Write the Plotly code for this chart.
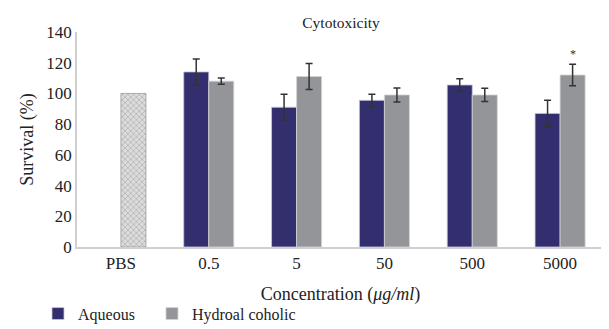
import plotly.graph_objects as go

categories = ["PBS", "0.5", "5", "50", "500", "5000"]
aqueous = [None, 114, 91, 95.5, 105.5, 87]
aqueous_err = [0, 8.5, 8.5, 4, 4, 8.5]
hydro = [None, 108, 111, 99, 99, 112]
hydro_err = [0, 2, 8.5, 4.5, 4.3, 7]
pbs = [100, None, None, None, None, None]
star_category_index = 5  # "5000"
star_y = 120

serif = "Liberation Serif, Times New Roman, serif"
err_style = dict(type="data", thickness=1.5, width=3.5, color="#333333")

# page body has an 8px default margin, so the figure is drawn at (8, 8)
W, H = 601, 321

fig = go.Figure()
fig.add_trace(go.Bar(
    name="Aqueous", x=categories, y=aqueous, offsetgroup="a", legend="legend",
    error_y=dict(array=aqueous_err, **err_style),
    marker=dict(color="#332E6E", line=dict(color="#C9C8DA", width=0.8)),
))
fig.add_trace(go.Bar(
    name="Hydroal coholic", x=categories, y=hydro, offsetgroup="h", legend="legend2",
    error_y=dict(array=hydro_err, **err_style),
    marker=dict(color="#949598", line=dict(color="#D4D4D6", width=0.8)),
))
fig.add_trace(go.Bar(
    name="PBS", x=categories, y=pbs, offsetgroup="h", showlegend=False,
    marker=dict(color="#D8D8D8", line=dict(color="#9A9A9A", width=0.8),
                pattern=dict(shape="x", fgcolor="#8A8A8A", bgcolor="#DCDCDC",
                             size=4, solidity=0.35)),
))

fig.add_annotation(x=star_category_index, y=star_y, xshift=12.5, text="*",
                   showarrow=False, yanchor="bottom",
                   font=dict(family=serif, size=12, color="#333"))

leg_common = dict(orientation="h", xanchor="left", yanchor="middle", y=-0.31,
                  font=dict(family=serif, size=16, color="#222"),
                  itemwidth=30, bgcolor="rgba(0,0,0,0)")

fig.update_layout(
    width=W, height=H,
    margin=dict(l=69, r=5, t=24, b=82, autoexpand=False),
    paper_bgcolor="white", plot_bgcolor="white",
    barmode="group", bargap=0.43, bargroupgap=0,
    font=dict(family=serif, size=16, color="#222222"),
    title=dict(text="Cytotoxicity", x=333 / W, xanchor="center", xref="container",
               y=1 - 15 / H, yanchor="middle", yref="container",
               font=dict(family=serif, size=15.5, color="#222")),
    showlegend=True,
    legend=dict(x=-0.074, **leg_common),
    legend2=dict(x=0.1423, **leg_common),
)
fig.update_xaxes(
    type="category", range=[-0.5, 5.5], automargin=False,
    showline=True, linecolor="#D0D0D0", linewidth=1.5, ticks="",
    showgrid=False,
    title=dict(text="Concentration (<i>μg/ml</i>)", standoff=15,
               font=dict(family=serif, size=18, color="#222")),
    tickfont=dict(family=serif, size=17, color="#222"),
)
fig.update_yaxes(
    range=[0, 140], dtick=20, showgrid=False, zeroline=False, automargin=False,
    showline=True, linecolor="#D0D0D0", linewidth=1.5, ticks="",
    title=dict(text="Survival (%)", standoff=8,
               font=dict(family=serif, size=18, color="#222")),
    tickfont=dict(family=serif, size=17, color="#222"),
)

fig.write_html("out.html")
